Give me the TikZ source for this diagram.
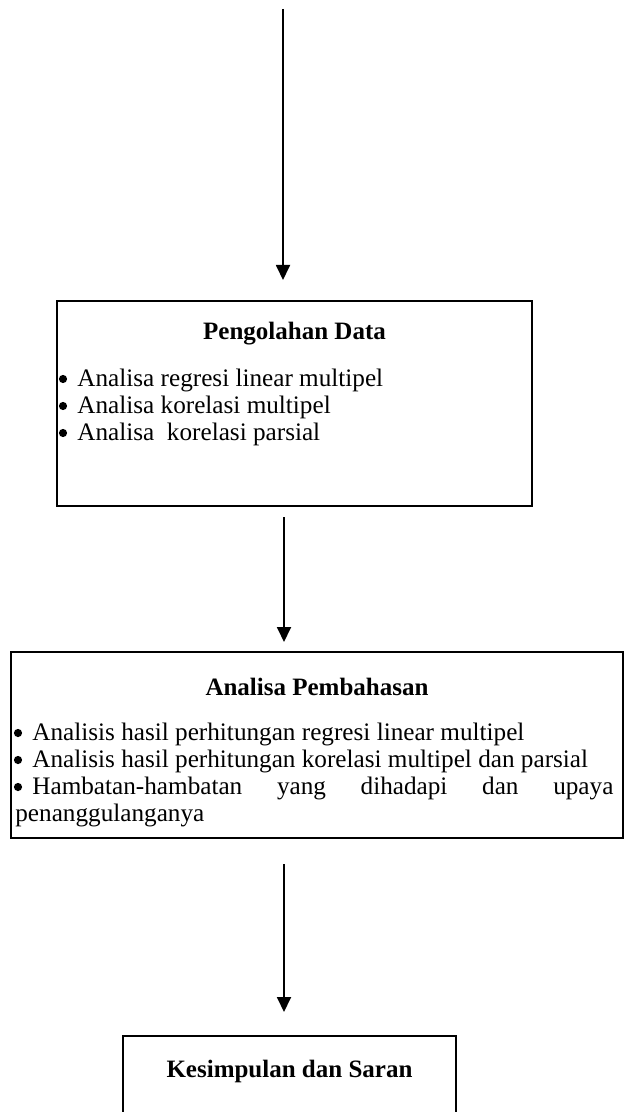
\documentclass[tikz,border=0pt]{standalone}
\usepackage{fontspec}
\setmainfont{Liberation Serif}
\usetikzlibrary{arrows.meta}
\tikzset{
  boxnode/.style={draw, line width=1pt, inner sep=0pt, anchor=north west},
  arr/.style={line width=0.9pt, -{Triangle[width=7pt,length=7.5pt]}},
  ttl/.style={font=\fontsize{12.5}{15}\selectfont\bfseries, inner sep=0pt, anchor=base},
  txt/.style={font=\fontsize{12.6}{15}\selectfont, inner sep=0pt, anchor=base west},
  bul/.style={circle, fill, inner sep=0pt, minimum size=4.1pt},
}
\begin{document}
\begin{tikzpicture}[x=0.5pt,y=-0.5pt]
\useasboundingbox (0,0) rectangle (623,1112);
% boxes
\node[boxnode, minimum width=237.5pt, minimum height=102.5pt] (box1) at (56,300) {};
\node[boxnode, minimum width=306pt, minimum height=93pt] (box2) at (10,651) {};
\node[boxnode, minimum width=166.5pt, minimum height=60pt] (box3) at (122,1035) {};
% arrows
\coordinate (top) at (283,9);
\coordinate (ax) at (284,0);
\draw[arr] (top) -- ([yshift=10pt]box1.north -| top);
\draw[arr] ([yshift=-5pt]box1.south -| ax) -- ([yshift=4.5pt]box2.north -| ax);
\draw[arr] ([yshift=-12.5pt]box2.south -| ax) -- ([yshift=11.5pt]box3.north -| ax);
% box 1 text
\node[ttl] (t1) at (box1.north |- 0,340) {Pengolahan Data};
\node[bul] (b1a) at (63,379) {};
\node[txt] (l1a) at (77,386) {Analisa regresi linear multipel};
\node[bul] (b1b) at (63,406) {};
\node[txt] (l1b) at (77,413) {Analisa korelasi multipel};
\node[bul] (b1c) at (63,433) {};
\node[txt] (l1c) at (77,440) {Analisa\ \ korelasi parsial};
% box 2 text
\node[ttl] (t2) at (box2.north |- 0,695) {Analisa Pembahasan};
\node[bul] (b2a) at (18,733) {};
\node[txt] (l2a) at (32,740) {Analisis hasil perhitungan regresi linear multipel};
\node[bul] (b2b) at (18,760) {};
\node[txt] (l2b) at (32,767) {Analisis hasil perhitungan korelasi multipel dan parsial};
\node[bul] (b2c) at (18,787) {};
\node[txt] (l2c) at (32,794) {\makebox[290.5pt][s]{Hambatan-hambatan yang dihadapi dan upaya}};
\node[txt] (l2d) at (15,821) {penanggulanganya};
% box 3 text
\node[ttl] (t3) at (box3.north |- 0,1077) {Kesimpulan dan Saran};
\end{tikzpicture}
\end{document}
